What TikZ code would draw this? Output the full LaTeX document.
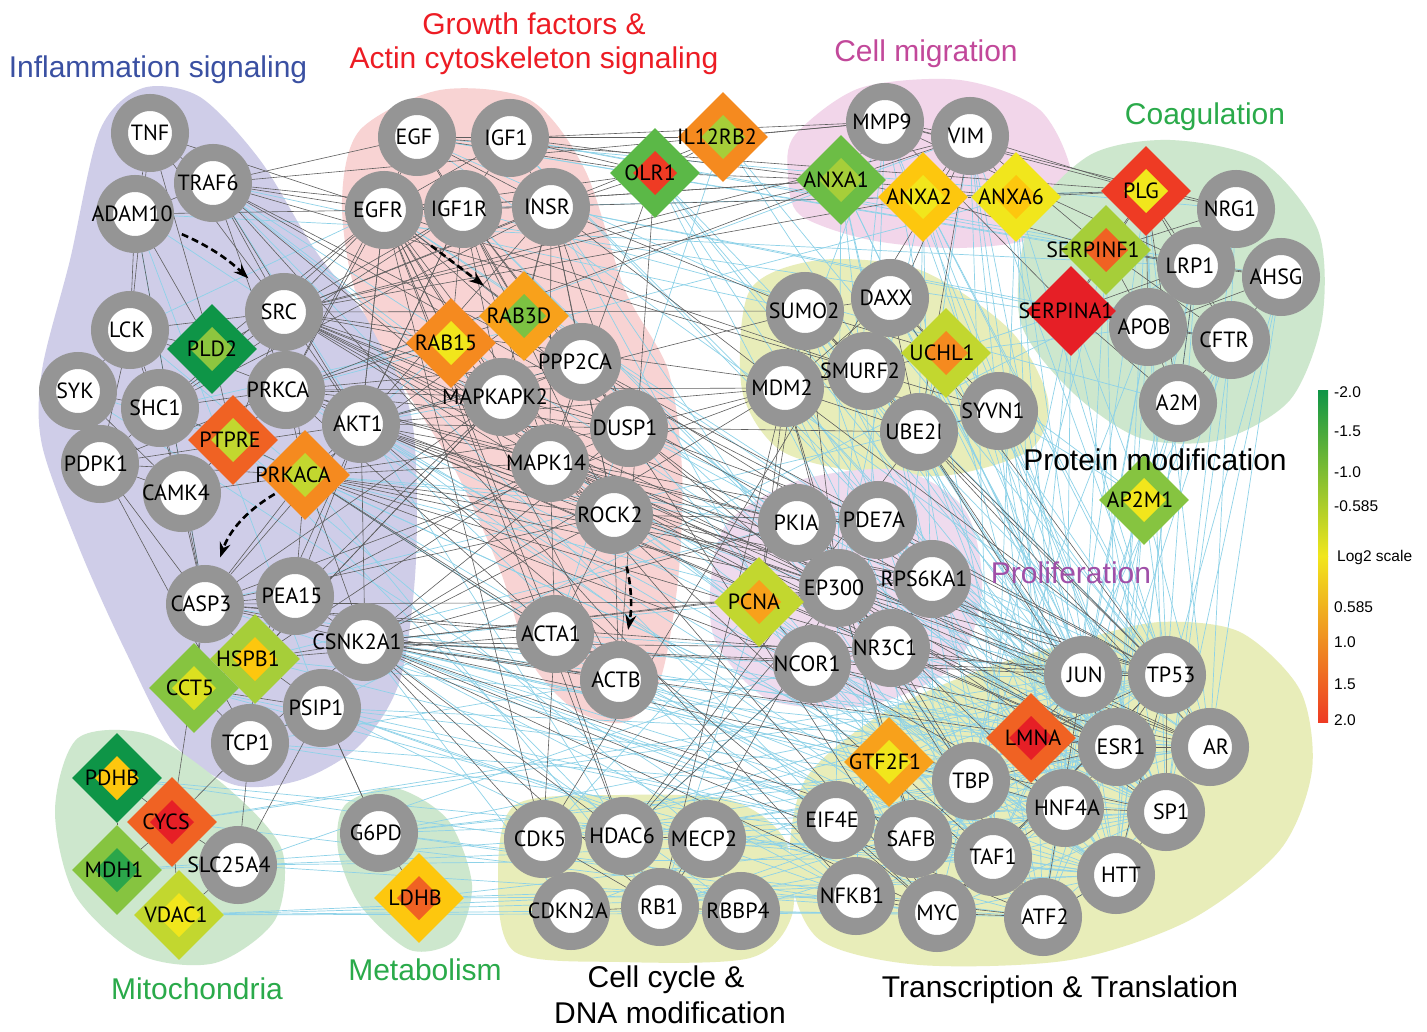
\documentclass[tikz,border=0pt]{standalone}
\usepackage{fontspec}
\setmainfont{PT Sans}
\newfontfamily\headfont{Liberation Sans}
\usetikzlibrary{shapes.geometric,arrows.meta}

\definecolor{ringgray}{HTML}{959595}
\definecolor{lgray}{HTML}{5E5E5E}
\definecolor{lblue}{HTML}{8ED2E8}
\definecolor{bginfl}{HTML}{CFCDE8}
\definecolor{bgpink}{HTML}{F8D3D3}
\definecolor{bgmig}{HTML}{F2D6EA}
\definecolor{bggreen}{HTML}{CDE7CD}
\definecolor{bgyel}{HTML}{E8EDB9}
\definecolor{bgprol}{HTML}{EFDBEE}
\definecolor{dgreen}{HTML}{0E9547}
\definecolor{green}{HTML}{5BB847}
\definecolor{agreen}{HTML}{6CBD45}
\definecolor{lgreen}{HTML}{86C440}
\definecolor{mgreen}{HTML}{2BA64A}
\definecolor{rgreen}{HTML}{7CC242}
\definecolor{lime}{HTML}{8DC63F}
\definecolor{ygreen}{HTML}{A6CE39}
\definecolor{ygreen2}{HTML}{C2D72F}
\definecolor{yellow}{HTML}{F1E61C}
\definecolor{ylw2}{HTML}{DCE020}
\definecolor{gold}{HTML}{FDC70E}
\definecolor{lorange}{HTML}{F8A11B}
\definecolor{orange}{HTML}{F58A1F}
\definecolor{dorange}{HTML}{F06223}
\definecolor{red}{HTML}{EE3B24}
\definecolor{dred}{HTML}{E61F26}
\definecolor{inflblue}{HTML}{3A50A2}
\definecolor{gfred}{HTML}{ED1C24}
\definecolor{migpink}{HTML}{C2489A}
\definecolor{coaggreen}{HTML}{2AAA4A}
\definecolor{prolpurple}{HTML}{A04FA8}

\pgfdeclarelayer{blobs}
\pgfdeclarelayer{edges}
\pgfdeclarelayer{labels}
\pgfsetlayers{blobs,edges,main,labels}

\tikzset{
  gene/.style={circle, draw=ringgray, line width=17, fill=white, minimum size=61, inner sep=0},
  prot/.style 2 args={diamond, minimum size=90, inner sep=0, fill=#1,
    path picture={\fill[#2] (path picture bounding box.center) ++(0,22) -- ++(22,-22) -- ++(-22,-22) -- ++(-22,22) -- cycle;}},
  glabel/.style={font=\fontsize{22}{22}\selectfont, inner sep=0},
  gline/.style={draw=lgray, line width=0.6},
  bline/.style={draw=lblue, line width=0.7},
  flow/.style={draw=black, line width=2.6, dash pattern=on 7 off 4, -{Stealth[length=15,width=11]}},
  head/.style={font=\headfont\fontsize{30}{32}\selectfont, inner sep=0},
  tick/.style={font=\headfont\fontsize{15.5}{15.5}\selectfont, inner sep=0, anchor=west}
}

\begin{document}
\begin{tikzpicture}[x=1pt,y=-1pt]
\useasboundingbox (0,0) rectangle (1427,1032);

% inflammation
\node[gene] (TNF) at (150,133) {};
\node[gene] (TRAF6) at (213,183) {};
\node[gene] (ADAM10) at (135,214) {};
\node[gene] (SRC) at (284,312) {};
\node[gene] (LCK) at (130,330) {};
\node[prot={dgreen}{lime}] (PLD2) at (212,349) {};
\node[gene] (SYK) at (78,391) {};
\node[gene] (SHC1) at (160,408) {};
\node[gene] (PRKCA) at (286,390) {};
\node[gene] (AKT1) at (361,424) {};
\node[gene] (PDPK1) at (100,464) {};
\node[gene] (CAMK4) at (182,493) {};
\node[prot={dorange}{ygreen2}] (PTPRE) at (233,440) {};
\node[prot={orange}{ygreen2}] (PRKACA) at (305,475) {};
\node[gene] (CASP3) at (205,604) {};
\node[gene] (PEA15) at (295,596) {};
\node[gene] (CSNK2A1) at (365,642) {};
\node[gene] (PSIP1) at (322,708) {};
\node[gene] (TCP1) at (250,743) {};
\node[prot={ygreen}{gold}] (HSPB1) at (255,659) {};
\node[prot={lgreen}{ylw2}] (CCT5) at (194,688) {};

% mitochondria, metabolism
\node[prot={dgreen}{gold}] (PDHB) at (117,778) {};
\node[prot={lgreen}{mgreen}] (MDH1) at (117,870) {};
\node[prot={ygreen2}{yellow}] (VDAC1) at (179,915) {};
\node[gene] (SLC25A4) at (238,865) {};
\node[prot={dorange}{dred}] (CYCS) at (172,822) {};
\node[gene] (G6PD) at (379,833) {};
\node[prot={gold}{dorange}] (LDHB) at (419,898) {};

% growth factors
\node[gene] (EGF) at (417,137) {};
\node[gene] (IGF1) at (510,138) {};
\node[gene] (EGFR) at (384,210) {};
\node[gene] (IGF1R) at (463,209) {};
\node[gene] (INSR) at (551,207) {};
\node[prot={lorange}{rgreen}] (RAB3D) at (524,316) {};
\node[prot={orange}{yellow}] (RAB15) at (451,343) {};
\node[gene] (PPP2CA) at (582,362) {};
\node[gene] (MAPKAPK2) at (502,397) {};
\node[gene] (DUSP1) at (629,428) {};
\node[gene] (MAPK14) at (550,463) {};
\node[gene] (ROCK2) at (614,515) {};
\node[gene] (ACTA1) at (555,634) {};
\node[gene] (ACTB) at (619,680) {};
\node[prot={green}{red}] (OLR1) at (655,173) {};
\node[prot={orange}{ygreen}] (IL12RB2) at (723,137) {};

% cell migration
\node[gene] (MMP9) at (885,122) {};
\node[gene] (VIM) at (970,136) {};
\node[prot={agreen}{ygreen}] (ANXA1) at (841,180) {};
\node[prot={gold}{yellow}] (ANXA2) at (923,197) {};
\node[prot={yellow}{gold}] (ANXA6) at (1016,197) {};

% coagulation
\node[gene] (NRG1) at (1236,209) {};
\node[gene] (LRP1) at (1196,266) {};
\node[gene] (AHSG) at (1281,277) {};
\node[gene] (APOB) at (1148,327) {};
\node[gene] (CFTR) at (1231,340) {};
\node[gene] (A2M) at (1178,403) {};
\node[prot={red}{yellow}] (PLG) at (1146,191) {};
\node[prot={ygreen}{dorange}] (SERPINF1) at (1106,250) {};
\node[prot={dred}{dred}] (SERPINA1) at (1071,311) {};
\node[prot={lgreen}{yellow}] (AP2M1) at (1144,500) {};

% protein modification
\node[gene] (SUMO2) at (805,311) {};
\node[gene] (DAXX) at (890,298) {};
\node[gene] (MDM2) at (785,388) {};
\node[gene] (SMURF2) at (866,371) {};
\node[prot={ygreen2}{orange}] (UCHL1) at (946,353) {};
\node[gene] (UBE2I) at (919,432) {};
\node[gene] (SYVN1) at (999,411) {};

% proliferation
\node[gene] (PKIA) at (797,523) {};
\node[gene] (PDE7A) at (878,520) {};
\node[gene] (EP300) at (838,588) {};
\node[gene] (RPS6KA1) at (932,579) {};
\node[prot={ygreen2}{lorange}] (PCNA) at (759,602) {};
\node[gene] (NCOR1) at (812,664) {};
\node[gene] (NR3C1) at (891,648) {};

% transcription & translation
\node[gene] (JUN) at (1083,675) {};
\node[gene] (TP53) at (1167,675) {};
\node[gene] (ESR1) at (1117,747) {};
\node[gene] (AR) at (1210,747) {};
\node[prot={dorange}{dred}] (LMNA) at (1031,738) {};
\node[gene] (TBP) at (971,781) {};
\node[prot={lorange}{yellow}] (GTF2F1) at (889,762) {};
\node[gene] (HNF4A) at (1065,808) {};
\node[gene] (SP1) at (1166,812) {};
\node[gene] (EIF4E) at (836,820) {};
\node[gene] (SAFB) at (913,839) {};
\node[gene] (TAF1) at (993,857) {};
\node[gene] (HTT) at (1116,875) {};
\node[gene] (NFKB1) at (856,896) {};
\node[gene] (MYC) at (937,913) {};
\node[gene] (ATF2) at (1043,917) {};

% cell cycle
\node[gene] (CDK5) at (543,839) {};
\node[gene] (HDAC6) at (624,836) {};
\node[gene] (MECP2) at (707,839) {};
\node[gene] (CDKN2A) at (571,911) {};
\node[gene] (RB1) at (660,907) {};
\node[gene] (RBBP4) at (741,911) {};

% gene names on top
\begin{pgfonlayer}{labels}
\foreach \g/\dx in {TNF/0,TRAF6/-5,ADAM10/-3,SRC/-5,LCK/-3,PLD2/0,SYK/-3,SHC1/-5,PRKCA/-8,AKT1/-3,
  PDPK1/-4,CAMK4/-6,PTPRE/-3,PRKACA/-12,CASP3/-4,PEA15/-3,CSNK2A1/-8,PSIP1/-6,TCP1/-4,HSPB1/-7,CCT5/-4,
  PDHB/-5,MDH1/-3,VDAC1/-3,SLC25A4/-9,CYCS/-6,G6PD/-3,LDHB/-4,
  EGF/-3,IGF1/-4,EGFR/-6,IGF1R/-4,INSR/-4,RAB3D/-5,RAB15/-5,PPP2CA/-7,MAPKAPK2/-7,DUSP1/-4,MAPK14/-4,
  ROCK2/-4,ACTA1/-4,ACTB/-3,OLR1/-5,IL12RB2/-6,
  MMP9/-3,VIM/-4,ANXA1/-5,ANXA2/-4,ANXA6/-5,
  NRG1/-6,LRP1/-6,AHSG/-5,APOB/-4,CFTR/-7,A2M/-1,PLG/-5,SERPINF1/-13,SERPINA1/-5,AP2M1/-4,
  SUMO2/-1,DAXX/-4,MDM2/-3,SMURF2/-6,UCHL1/-4,UBE2I/-5,SYVN1/-6,
  PKIA/-1,PDE7A/-4,EP300/-4,RPS6KA1/-8,PCNA/-5,NCOR1/-5,NR3C1/-6,
  JUN/2,TP53/4,ESR1/4,AR/6,LMNA/2,TBP/0,GTF2F1/-4,HNF4A/2,SP1/5,EIF4E/-4,SAFB/-2,TAF1/0,HTT/5,
  NFKB1/-4,MYC/0,ATF2/2,
  CDK5/-3,HDAC6/-2,MECP2/-3,CDKN2A/-3,RB1/-1,RBBP4/-3}
  \node[glabel] (\g-t) at ([xshift=\dx]\g.center) {\g};
\end{pgfonlayer}

% interactions
\begin{pgfonlayer}{edges}
\foreach \s/\ts in {
  TRAF6/{NCOR1,EIF4E,HDAC6,SUMO2,EP300,HTT},
  ADAM10/{SRC,CASP3,LRP1,PSIP1},
  LCK/{PRKACA,EGFR},
  SYK/{PTPRE,NFKB1},
  SHC1/{RAB15,TBP},
  PRKCA/{VIM,ANXA6,HNF4A,TAF1},
  AKT1/{RAB15,PPP2CA,MAPKAPK2,GTF2F1,HTT,ATF2,NFKB1,SP1},
  PTPRE/{HDAC6,MECP2},
  PRKACA/{PDE7A,PKIA,EIF4E,SAFB,RB1,TBP,JUN},
  CASP3/{SYVN1,TAF1,ESR1},
  CSNK2A1/{EIF4E,SAFB,NFKB1,HNF4A,GTF2F1,TBP,AR,HTT,LMNA,RBBP4,CDKN2A,PCNA,NCOR1},
  PSIP1/{RBBP4,MECP2,TBP,SAFB,NFKB1,AR},
  TCP1/{HTT,SP1,ACTB,LRP1},
  HSPB1/{HTT,ESR1,PKIA},
  CCT5/{TAF1,ATF2},
  PDHB/{HTT,CDK5},
  CYCS/{MYC,TP53,JUN},
  MDH1/{EIF4E,SAFB},
  VDAC1/{HTT,NFKB1,MYC,CDKN2A},
  SLC25A4/{ATF2,TAF1,NCOR1},
  G6PD/{TP53,MYC,ATF2,HNF4A,ESR1,AR},
  LDHB/{SP1,HTT,NFKB1},
  CDK5/{TP53,JUN,ESR1},
  HDAC6/{TBP,AR,SP1,NCOR1,HTT},
  MECP2/{TAF1,HTT,SP1},
  CDKN2A/{TP53,MYC},
  RB1/{SP1,ESR1,AR},
  RBBP4/{ATF2,HNF4A},
  EGF/{LRP1,SERPINF1,NRG1,SUMO2,TP53},
  IGF1/{AHSG,LRP1,ESR1,SP1},
  EGFR/{PLG,APOB,SP1,AR,JUN},
  IGF1R/{A2M,HNF4A,EP300},
  INSR/{APOB,CFTR,TAF1,MYC},
  OLR1/{ESR1,AR,JUN,ATF2,HTT},
  IL12RB2/{TP53,SP1,ACTA1},
  MMP9/{JUN,SP1,ATF2,NFKB1,MDM2,EP300},
  VIM/{TP53,HNF4A,HTT,TAF1,LMNA,NR3C1},
  ANXA1/{SAFB,TBP,ESR1,RPS6KA1,EP300,JUN},
  ANXA2/{MYC,AR,SP1,TP53,HTT,EP300,UBE2I},
  ANXA6/{ATF2,TAF1,HNF4A,HTT,TP53},
  PLG/{HTT,AR,ATF2,SP1,TP53},
  SERPINF1/{ESR1,JUN,MYC},
  SERPINA1/{TBP,SP1,HNF4A,AP2M1,LMNA},
  NRG1/{AR,SP1},
  LRP1/{HTT,HNF4A,AP2M1,TP53},
  AHSG/{SP1,AR,HTT},
  APOB/{HNF4A,TBP,ESR1,ATF2},
  CFTR/{AP2M1,SP1,TAF1,ATF2},
  A2M/{HNF4A,HTT,AP2M1},
  UCHL1/{TP53,ESR1,HNF4A,AP2M1,SERPINA1,APOB},
  SYVN1/{HNF4A,SP1,ESR1,AP2M1},
  AP2M1/{ESR1,HTT,AR,TP53,JUN},
  PCNA/{TBP,GTF2F1,MYC,TAF1,CDK5,RB1},
  PKIA/{TBP,ESR1,SP1},
  PDE7A/{ESR1,AR,SP1},
  RPS6KA1/{ESR1,JUN,HNF4A,ATF2,SP1},
  NR3C1/{HTT,SP1,AR,TAF1},
  NCOR1/{TAF1,SP1,HTT},
  EP300/{GTF2F1,TAF1,SAFB,EIF4E},
  SUMO2/{JUN,SP1,TBP,HNF4A},
  DAXX/{SP1,ESR1,AR},
  MDM2/{SP1,ESR1,HTT,ATF2},
  SMURF2/{TP53,SP1},
  UBE2I/{HNF4A,SP1,HTT,TAF1},
  ACTA1/{SAFB,ESR1,TP53},
  ACTB/{TAF1,HNF4A,SP1,TP53,HTT},
  ROCK2/{JUN,HTT},
  DUSP1/{JUN,TP53,ATF2},
  MAPK14/{TP53,HTT,SP1},
  PPP2CA/{SP1,HNF4A},
  TBP/{JUN,TP53,SP1,AR,HTT,ATF2},
  TAF1/{JUN,ESR1,SP1,HTT},
  EIF4E/{TBP,HNF4A,ESR1},
  SAFB/{HNF4A,ESR1,JUN},
  NFKB1/{TBP,HNF4A,JUN,TP53},
  MYC/{HNF4A,SP1,HTT},
  ATF2/{SP1,HTT,ESR1},
  LMNA/{SP1,AR,HTT},
  GTF2F1/{JUN,TP53,ESR1,HNF4A}}
  {\foreach \t in \ts {\draw[bline] (\s) -- (\t);}}

\foreach \s/\ts in {
  TNF/{TRAF6,ADAM10,SRC,EGFR,PLD2,LCK},
  TRAF6/{ADAM10,SRC,EGF,EGFR,PRKCA,AKT1,MAPK14,JUN,NFKB1,TP53,SMURF2,IGF1R},
  ADAM10/{LCK,CASP3,EGFR,PLD2},
  SRC/{LCK,PLD2,PRKCA,AKT1,SHC1,EGFR,IGF1R,INSR,PTPRE,PRKACA,ESR1,AR,MAPK14,ROCK2,PKIA,EP300,DUSP1,ANXA2,RAB15,MAPKAPK2,SYVN1},
  LCK/{SYK,SHC1,PLD2,CAMK4,PDPK1,PRKCA},
  SYK/{SHC1,PDPK1,CAMK4},
  SHC1/{PTPRE,PRKCA,EGFR,IGF1R,INSR,CASP3,PDPK1},
  PRKCA/{AKT1,PTPRE,PRKACA,EGFR,MAPK14,ROCK2,ANXA1,ACTA1,MAPKAPK2,DUSP1,PPP2CA,RAB3D,MDM2,PKIA},
  AKT1/{PDPK1,PRKACA,CASP3,MDM2,TP53,INSR,IGF1R,EGFR,MYC,ESR1,AR,PEA15,HSPB1,SUMO2,UBE2I,CSNK2A1,NR3C1,EP300,PDE7A},
  PDPK1/{PRKACA,CAMK4,CASP3,PRKCA,TCP1},
  CAMK4/{PRKACA,CASP3,PTPRE},
  PTPRE/{PRKACA,PLD2},
  PRKACA/{CASP3,PEA15,CSNK2A1,RAB3D,ROCK2,ACTB,EP300,NR3C1,NCOR1,RPS6KA1,MAPK14,DUSP1,ACTA1},
  CASP3/{PEA15,CSNK2A1,HSPB1,CCT5,ACTA1,ACTB,ROCK2,MAPKAPK2,TP53,CYCS,MDM2,PCNA},
  PEA15/{CSNK2A1,HSPB1,MAPK14,MAPKAPK2},
  CSNK2A1/{PSIP1,HSPB1,TCP1,JUN,TP53,MYC,ATF2,RB1,HDAC6,MDM2,NR3C1,SP1,ESR1,TAF1,ACTB,EP300,CDK5,RPS6KA1,PKIA,DUSP1,ROCK2},
  PSIP1/{TCP1,G6PD,CCT5,HSPB1},
  TCP1/{CCT5,SLC25A4,HSPB1},
  HSPB1/{CCT5,MAPKAPK2,MAPK14,ACTA1},
  EGF/{EGFR,IGF1,IGF1R,RAB3D,PRKCA,PLG,INSR},
  IGF1/{IGF1R,INSR,EGFR,ANXA1,OLR1,MMP9},
  EGFR/{IGF1R,RAB15,MAPKAPK2,MAPK14,PPP2CA,DUSP1,ROCK2,ACTB,ANXA1,ANXA2,SMURF2,CDK5,HDAC6,PLD2,RAB3D,AKT1,ACTA1},
  IGF1R/{INSR,RAB3D,PPP2CA,DUSP1,MAPK14,AKT1,RAB15,MAPKAPK2,ROCK2},
  INSR/{PPP2CA,MAPKAPK2,ROCK2,RAB3D,SUMO2,OLR1,DUSP1,MAPK14,MDM2},
  PPP2CA/{MAPKAPK2,MAPK14,DUSP1,TP53,MYC,JUN,AKT1,ROCK2,RAB3D},
  MAPKAPK2/{MAPK14,DUSP1,HSPB1,RAB15},
  MAPK14/{DUSP1,ROCK2,ACTA1,ATF2,JUN,MYC,TP53,EP300,NR3C1,ESR1,RPS6KA1,PKIA},
  DUSP1/{ROCK2,NR3C1,PDE7A,EP300,MDM2},
  ROCK2/{ACTA1,ACTB,RPS6KA1,PDE7A,EP300},
  ACTA1/{ACTB,CDK5,HDAC6},
  OLR1/{IL12RB2,EGF,ACTB,MAPK14,ANXA1,EGFR},
  IL12RB2/{MMP9,EGF,SRC},
  MMP9/{VIM,ANXA1,SERPINA1,PLG,LRP1,NRG1,TRAF6},
  VIM/{ANXA1,ANXA2,ANXA6,SMURF2,UBE2I,CDK5,PLG,SERPINF1,SRC},
  ANXA1/{ANXA2,ANXA6,SRC,EGFR},
  ANXA2/{ANXA6,PLG,SERPINF1},
  ANXA6/{PLG},
  PLG/{SERPINF1,NRG1,LRP1,A2M,SERPINA1,APOB,CFTR},
  SERPINF1/{LRP1,APOB,SERPINA1,AHSG,CFTR,NRG1},
  SERPINA1/{APOB,A2M,LRP1,CFTR},
  LRP1/{NRG1,APOB,AHSG,A2M,CFTR},
  APOB/{CFTR,A2M,AHSG},
  CFTR/{A2M,AHSG},
  SUMO2/{DAXX,MDM2,SMURF2,UBE2I,UCHL1,TP53,PCNA,EP300,SRC},
  DAXX/{MDM2,SMURF2,UBE2I,SYVN1,TP53,UCHL1},
  MDM2/{SMURF2,UBE2I,TP53,PCNA,EP300,RB1,MYC},
  SMURF2/{UBE2I,UCHL1,SYVN1},
  UBE2I/{SYVN1,UCHL1,ESR1,AR,TP53,JUN,HDAC6},
  PKIA/{PDE7A,EP300},
  EP300/{PDE7A,RPS6KA1,NR3C1,NCOR1,PCNA,TP53,JUN,ESR1,AR,HNF4A,TBP,MYC,ATF2,SP1,HDAC6,RB1},
  NCOR1/{NR3C1,PCNA,ESR1,AR,HNF4A,HDAC6},
  NR3C1/{JUN,ESR1,TBP,RPS6KA1},
  JUN/{TP53,ESR1,ATF2,LMNA},
  TP53/{ESR1,AR,SP1,HTT,MYC,TAF1,LMNA},
  ESR1/{AR,SP1,LMNA,HNF4A,TBP},
  HNF4A/{SP1,TBP,TAF1},
  TBP/{GTF2F1,TAF1,SAFB},
  GTF2F1/{TAF1,EIF4E},
  EIF4E/{MYC,NFKB1},
  SAFB/{TAF1,MYC},
  NFKB1/{MYC,ATF2},
  MYC/{ATF2,TAF1},
  HTT/{ATF2,SP1},
  CDK5/{HDAC6,CDKN2A,RB1},
  HDAC6/{MECP2,RB1},
  MECP2/{RB1,RBBP4},
  CDKN2A/{RB1},
  RB1/{RBBP4},
  G6PD/{LDHB,PSIP1},
  PDHB/{CYCS,MDH1},
  CYCS/{SLC25A4,VDAC1,MDH1,TCP1},
  SLC25A4/{VDAC1,PSIP1}}
  {\foreach \t in \ts {\draw[gline] (\s) -- (\t);}}
\end{pgfonlayer}

% group areas
\begin{pgfonlayer}{blobs}
\fill[white] (0,0) rectangle (1427,1032);
\fill[bginfl] plot[smooth cycle] coordinates {(143,88) (200,97) (260,160) (315,250) (375,330) (412,420) (416,560)
  (400,680) (360,745) (300,780) (235,785) (175,745) (125,650) (80,550) (42,445) (42,370) (70,260) (100,130)};
\fill[bgpink] plot[smooth cycle] coordinates {(360,130) (440,90) (530,100) (585,170) (625,290) (668,370) (682,470)
  (678,580) (660,680) (625,722) (575,710) (530,660) (500,570) (455,470) (400,380) (355,290) (342,200)};
\fill[bgmig] plot[smooth cycle] coordinates {(795,135) (860,88) (960,80) (1040,110) (1072,180) (1040,235) (960,248)
  (870,240) (800,215) (788,175)};
\fill[bggreen] plot[smooth cycle] coordinates {(1030,220) (1090,155) (1170,140) (1260,160) (1318,230) (1322,320)
  (1290,400) (1220,440) (1140,438) (1070,390) (1020,320)};
\fill[bgyel] plot[smooth cycle] coordinates {(750,290) (820,260) (920,270) (1010,330) (1048,400) (1030,450) (950,475)
  (860,472) (780,450) (742,390)};
\fill[bgprol] plot[smooth cycle] coordinates {(730,520) (800,480) (900,470) (965,510) (982,590) (955,665) (870,705)
  (770,700) (715,640) (712,570)};
\fill[bgyel] plot[smooth cycle] coordinates {(805,780) (880,715) (980,670) (1080,640) (1160,622) (1240,632) (1300,690)
  (1312,770) (1280,850) (1190,920) (1070,960) (920,965) (820,940) (790,870)};
\fill[bggreen] plot[smooth cycle] coordinates {(78,738) (150,735) (230,790) (282,850) (275,920) (215,963) (140,955)
  (75,895) (55,810)};
\fill[bggreen] plot[smooth cycle] coordinates {(345,805) (395,788) (448,820) (472,885) (455,940) (410,950) (360,905)
  (338,850)};
\fill[bgyel] plot[smooth cycle] coordinates {(515,805) (620,795) (730,800) (785,840) (792,915) (750,958) (620,962)
  (515,952) (498,880)};
\end{pgfonlayer}

% signaling flows
\draw[flow, shorten <=12, shorten >=10] (ADAM10) to[bend left=10] (SRC);
\draw[flow, shorten <=20, shorten >=18] (EGFR) -- (RAB3D);
\draw[flow, shorten <=3, shorten >=10] (PRKACA) to[bend right=20] (CASP3);
\draw[flow, shorten <=14, shorten >=12] (ROCK2) to[bend left=12] (ACTB);

% group titles
\node[head, text=inflblue] (tInfl) at (158,70) {Inflammation signaling};
\node[head, text=gfred] (tGrowth) at (534,24) {Growth factors \&};
\node[head, text=gfred] (tActin) at (534,61) {Actin cytoskeleton signaling};
\node[head, text=migpink] (tMig) at (926,54) {Cell migration};
\node[head, text=coaggreen] (tCoag) at (1205,117) {Coagulation};
\node[head] (tProt) at (1155,460) {Protein modification};
\node[head, text=prolpurple] (tProl) at (1071,573) {Proliferation};
\node[head, text=coaggreen] (tMito) at (197,989) {Mitochondria};
\node[head, text=coaggreen] (tMetab) at (425,970) {Metabolism};
\node[head] (tCycle) at (666,980) {Cell cycle \&};
\node[head] (tDNA) at (670,1013) {DNA modification};
\node[head] (tTrans) at (1060,990) {Transcription \& Translation};

% log2 colour scale
\shade[top color=dgreen, middle color=lime, bottom color=yellow] (1318,390) rectangle (1328,556);
\shade[top color=yellow, middle color=orange, bottom color=red] (1318,556) rectangle (1328,722);
\foreach \v/\y [count=\i] in {-2.0/392,-1.5/431,-1.0/472,-0.585/506,0.585/607,1.0/642,1.5/684,2.0/720}
  \node[tick] (cb\i) at (1334,\y) {\v};
\node[tick] (cbLog) at (1337,557) {Log2 scale};

\end{tikzpicture}
\end{document}
